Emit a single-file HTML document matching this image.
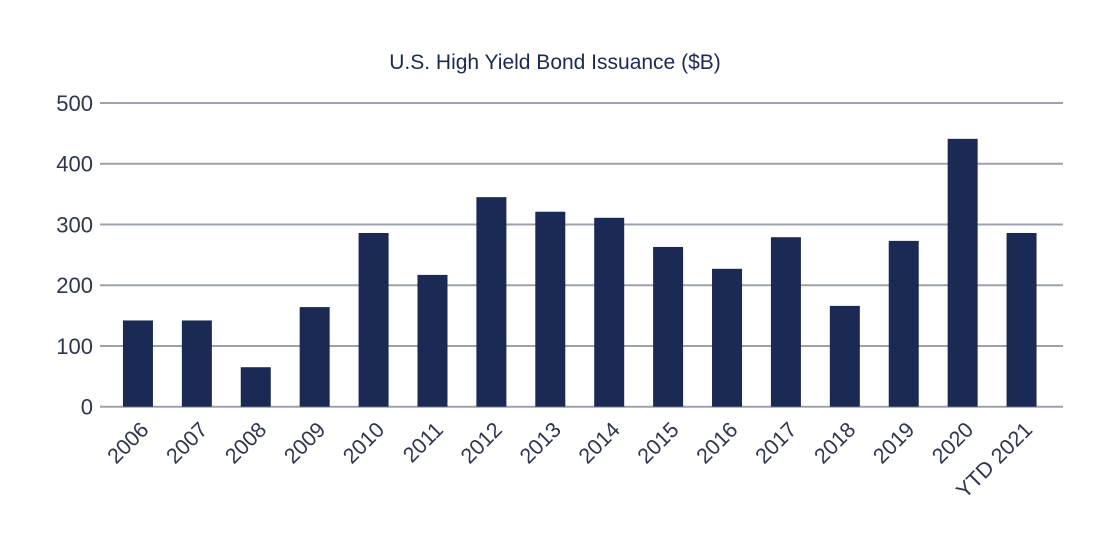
<!DOCTYPE html>
<html><head><meta charset="utf-8">
<style>
html,body{margin:0;padding:0;background:#fff;}
svg{display:block;font-family:"Liberation Sans",sans-serif;}
</style></head>
<body>
<svg id="chart" width="1110" height="560" viewBox="0 0 1110 560">
<text x="555" y="69" text-anchor="middle" font-size="21" fill="#1b2a55">U.S. High Yield Bond Issuance ($B)</text>
<g id="grid"></g><g id="bars"></g><g id="xlabels"></g><g id="ylabels"></g>
</svg>
<script>
const categories = ["2006","2007","2008","2009","2010","2011","2012","2013","2014","2015","2016","2017","2018","2019","2020","YTD 2021"];
const issuance = [142,142,65,164,286,217,345,321,311,263,227,279,166,273,441,286];
const yTicks = [0,100,200,300,400,500];
const NS="http://www.w3.org/2000/svg";
const y0=406.7, y1=103, gx0=100, gx1=1063, bx0=108.5, bx1=1051, bw=30;
const yScale=v=>y0-(v/500)*(y0-y1);
const step=(bx1-bx0)/categories.length;
const xCenter=i=>bx0+step*(i+0.5);
function mk(tag,attrs,parent){const e=document.createElementNS(NS,tag);for(const k in attrs)e.setAttribute(k,attrs[k]);parent.appendChild(e);return e;}
const grid=document.getElementById('grid'),bars=document.getElementById('bars'),xl=document.getElementById('xlabels'),yl=document.getElementById('ylabels');
yTicks.forEach(t=>{
  const l=mk('line',{x1:gx0,x2:gx1,y1:yScale(t),y2:yScale(t),stroke:'#9aa3ab','stroke-width':2},grid);
  
  
  const tx=mk('text',{x:93,y:yScale(t)+8,'text-anchor':'end','font-size':22,fill:'#2d3550'},yl);
  tx.textContent=t;
  
  
});
categories.forEach((c,i)=>{
  const v=issuance[i];
  const r=mk('rect',{x:xCenter(i)-bw/2,y:yScale(v),width:bw,height:yScale(0)-yScale(v),fill:'#1b2a55'},bars);
  
  
  const cx=xCenter(i)+12, cy=431;
  const t=mk('text',{x:cx,y:cy,'text-anchor':'end','font-size':21.5,fill:'#2d3550',transform:`rotate(-45 ${cx} ${cy})`},xl);
  t.textContent=c;
  
  
});
</script>
</body></html>
